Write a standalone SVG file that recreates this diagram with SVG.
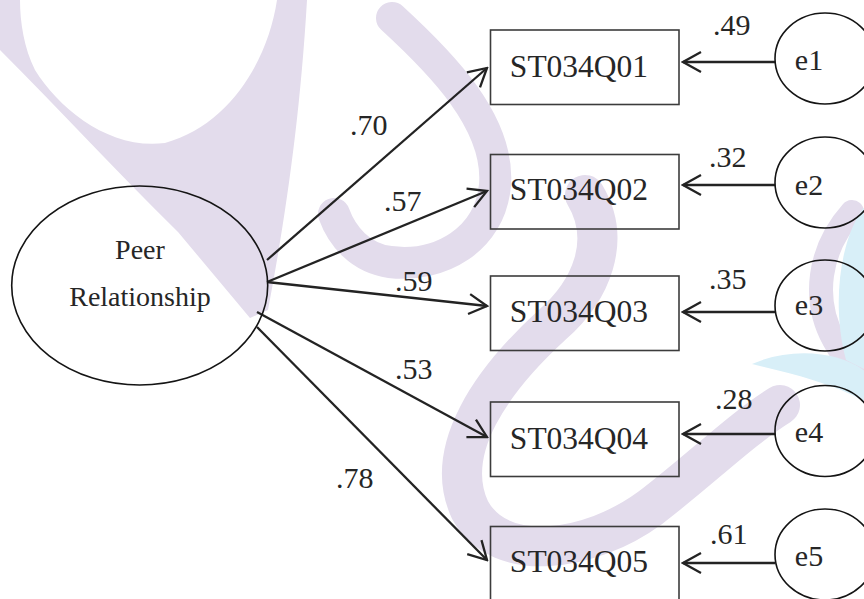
<svg xmlns="http://www.w3.org/2000/svg" width="864" height="599" viewBox="0 0 864 599">
  <style>
    .lbl { font-family: "Liberation Serif", "Times New Roman", serif; fill: #262626; }
    .w { font-size: 30px; }
    .box { fill: none; stroke: #3c3c3c; stroke-width: 1.6; }
    .lat { fill: none; stroke: #141414; stroke-width: 1.6; }
    .conn { fill: none; stroke: #232323; stroke-width: 2.3; marker-end: url(#head); }
    .wm { fill: #e3dcec; }
    .wms { fill: none; stroke: #e3dcec; stroke-linecap: round; }
    .cy { fill: #d8eff8; }
  </style>
  <defs>
    <marker id="head" viewBox="-21 -12 23 24" refX="0" refY="0" markerWidth="23" markerHeight="24" markerUnits="userSpaceOnUse" orient="auto">
      <path d="M-18,-10 L0,0 L-18,10" fill="none" stroke="#232323" stroke-width="2.3" stroke-linejoin="miter"/>
    </marker>
  </defs>

  <rect width="864" height="599" fill="#ffffff"/>

  <!-- background logo -->
  <g id="logo">
    <path class="wm" fill-rule="evenodd" d="M0,0 H307 C300,120 285,220 268,310 L250,318 L178,232 C120,175 60,110 0,50 Z M20,0 H277 C268,60 230,125 165,143 C110,150 60,110 35,70 C24,48 20,22 20,0 Z"/>
    <path class="wms" stroke-width="32" d="M392,18 C440,62 500,122 495,185 C490,240 440,268 390,262 C360,258 342,236 334,214"/>
    <path class="wms" stroke-width="40" d="M585,195 C612,240 592,290 552,325 C492,380 442,450 470,510 C500,565 590,552 650,508 C700,470 740,430 780,405"/>
    <path class="wms" stroke-width="24" d="M852,212 C818,250 812,300 834,340 C845,360 858,375 866,386"/>
    <path class="cy" d="M752,364 C792,346 842,352 866,372 L866,402 C830,382 792,374 752,364 Z"/>
    <path class="cy" d="M866,205 C842,232 830,300 846,360 L866,370 Z"/>
  </g>

  <!-- connectors -->
  <g id="connectors">
    <line class="conn" x1="267" y1="260" x2="487" y2="68"/>
    <line class="conn" x1="267" y1="282" x2="487" y2="191"/>
    <line class="conn" x1="267" y1="282" x2="487" y2="306"/>
    <line class="conn" x1="257" y1="312" x2="487" y2="437"/>
    <line class="conn" x1="257" y1="327" x2="487" y2="560"/>
    <line class="conn" x1="775" y1="62" x2="683" y2="62"/>
    <line class="conn" x1="775" y1="185" x2="683" y2="185"/>
    <line class="conn" x1="775" y1="312" x2="683" y2="312"/>
    <line class="conn" x1="775" y1="434" x2="683" y2="434"/>
    <line class="conn" x1="775" y1="563" x2="683" y2="563"/>
  </g>

  <!-- path coefficients -->
  <g id="loadings" class="lbl w">
    <text x="350" y="135">.70</text>
    <text x="384" y="210.5">.57</text>
    <text x="395" y="291">.59</text>
    <text x="395" y="379">.53</text>
    <text x="336" y="488">.78</text>
    <text x="713" y="35">.49</text>
    <text x="709" y="166.5">.32</text>
    <text x="709" y="289">.35</text>
    <text x="715" y="409">.28</text>
    <text x="710" y="544">.61</text>
  </g>

  <!-- latent factor -->
  <g id="peer-relationship">
    <ellipse class="lat" cx="139.7" cy="285.5" rx="128" ry="99.5"/>
    <text class="lbl" x="140" y="259" font-size="28" text-anchor="middle">Peer</text>
    <text class="lbl" x="140" y="306" font-size="28" text-anchor="middle">Relationship</text>
  </g>

  <!-- observed indicators -->
  <g id="ST034Q01">
    <rect class="box" x="490.5" y="30" width="188.5" height="74.5"/>
    <text class="lbl" x="579" y="77" font-size="31.5" text-anchor="middle">ST034Q01</text>
  </g>
  <g id="ST034Q02">
    <rect class="box" x="490.5" y="154.5" width="188.5" height="74.5"/>
    <text class="lbl" x="579" y="200" font-size="31.5" text-anchor="middle">ST034Q02</text>
  </g>
  <g id="ST034Q03">
    <rect class="box" x="490.5" y="276" width="188.5" height="74.5"/>
    <text class="lbl" x="579" y="321.5" font-size="31.5" text-anchor="middle">ST034Q03</text>
  </g>
  <g id="ST034Q04">
    <rect class="box" x="490.5" y="402" width="188.5" height="74.5"/>
    <text class="lbl" x="579" y="449" font-size="31.5" text-anchor="middle">ST034Q04</text>
  </g>
  <g id="ST034Q05">
    <rect class="box" x="490.5" y="526.5" width="188.5" height="74.5"/>
    <text class="lbl" x="579" y="572" font-size="31.5" text-anchor="middle">ST034Q05</text>
  </g>

  <!-- error terms -->
  <g id="e1">
    <ellipse class="lat" cx="825" cy="58.5" rx="50" ry="45.5"/>
    <text class="lbl w" x="809" y="70" text-anchor="middle">e1</text>
  </g>
  <g id="e2">
    <ellipse class="lat" cx="825" cy="182.5" rx="50" ry="45.5"/>
    <text class="lbl w" x="809" y="195" text-anchor="middle">e2</text>
  </g>
  <g id="e3">
    <ellipse class="lat" cx="825" cy="305.5" rx="50" ry="45.5"/>
    <text class="lbl w" x="809" y="315" text-anchor="middle">e3</text>
  </g>
  <g id="e4">
    <ellipse class="lat" cx="825" cy="431" rx="50" ry="45.5"/>
    <text class="lbl w" x="809" y="442" text-anchor="middle">e4</text>
  </g>
  <g id="e5">
    <ellipse class="lat" cx="825" cy="554.5" rx="50" ry="45.5"/>
    <text class="lbl w" x="809" y="566" text-anchor="middle">e5</text>
  </g>
</svg>
